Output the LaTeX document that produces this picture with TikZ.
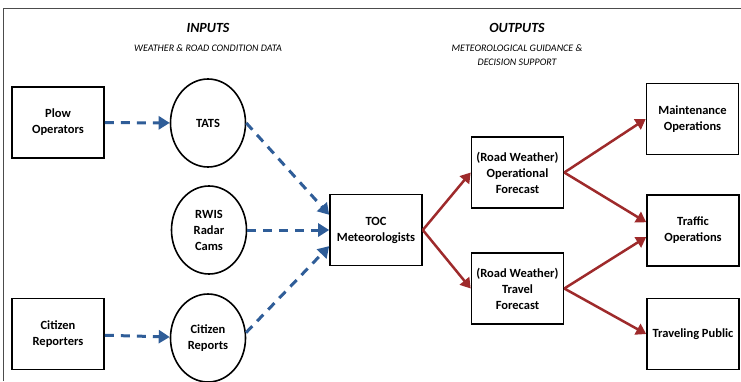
\documentclass[tikz,border=0pt]{standalone}
\usepackage{fontspec}
\setmainfont{Carlito}
\usepackage{tikz}
\usetikzlibrary{arrows.meta,shapes.geometric}

\definecolor{dashblue}{HTML}{2F5D98}
\definecolor{arrowred}{HTML}{9E2A2B}

\begin{document}
\begin{tikzpicture}[x=1pt,y=-1pt]
	\useasboundingbox (0,0) rectangle (741,381);
	\draw[line width=1pt,black!70] (3,381) -- (3,8) -- (741,8);

	\begin{scope}[every node/.style={align=center,font=\itshape\fontsize{10}{14}\selectfont}]
	    \node (intitle) at (208,28) {\bfseries\fontsize{14}{16}\selectfont INPUTS};
	    \node (insub) at (208,48) {WEATHER \& ROAD CONDITION DATA};
	    \node (outtitle) at (517,28) {\bfseries\fontsize{14}{16}\selectfont OUTPUTS};
	    \node (outsub) at (517,55) {METEOROLOGICAL GUIDANCE \&\\DECISION SUPPORT};
	\end{scope}

	\begin{scope}[every node/.style={rectangle,draw,line width=1.6pt,minimum width=92pt,minimum height=71pt,inner sep=1pt,align=center,font=\bfseries\fontsize{12.5}{16}\selectfont}]
	    \node (plow) at (58,122.5) {Plow\\Operators};
	    \node (citizen) at (58,334) {Citizen\\Reporters};
	    \node (toc) at (376,230) {TOC\\Meteorologists};
	    \node (oper) at (517.5,172.5) {(Road Weather)\\Operational\\Forecast};
	    \node (travel) at (517.5,288.5) {(Road Weather)\\Travel\\Forecast};
	    \node (maint) at (692.5,119) {Maintenance\\Operations};
	    \node (traffic) at (693,230.5) {Traffic\\Operations};
	    \node (public) at (693,334) {Traveling Public};
	\end{scope}

	\begin{scope}[every node/.style={ellipse,draw,line width=1.6pt,minimum width=75pt,minimum height=88pt,inner sep=0pt,align=center,font=\bfseries\fontsize{12.5}{16}\selectfont}]
	    \node (tats) at (208,123) {TATS};
	    \node (rwis) at (209,230) {RWIS\\Radar\\Cams};
	    \node (reports) at (208,338) {Citizen\\Reports};
	\end{scope}

	\begin{scope}[>={Triangle[length=11pt,width=13pt]},
	              every edge/.style={draw=dashblue,line width=3pt,dash pattern=on 9pt off 7pt,->}]
	    \path (plow) edge (tats);
	    \path (citizen) edge (reports);
	    \path (tats.east) edge (toc.162);
	    \path (rwis) edge (toc);
	    \path (reports.8) edge (toc.199);
	\end{scope}

	\begin{scope}[>={Triangle[length=10pt,width=12pt]},
	              every edge/.style={draw=arrowred,line width=2.5pt,->}]
	    \path (toc.east) edge (oper.west);
	    \path (toc.east) edge (travel.west);
	    \path (oper.east) edge (maint.west);
	    \path (oper.east) edge (traffic.170);
	    \path (travel.east) edge (traffic.188);
	    \path (travel.east) edge (public.west);
	\end{scope}
\end{tikzpicture}
\end{document}
